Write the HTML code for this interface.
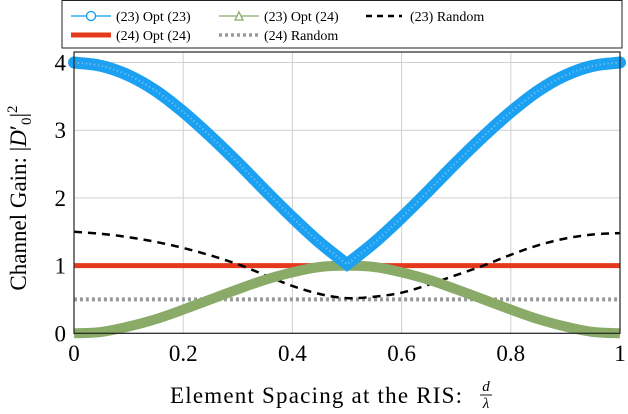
<!DOCTYPE html>
<html><head><meta charset="utf-8"><style>
body{margin:0;background:#fff;}
svg{display:block;font-family:"Liberation Serif",serif;}
</style></head><body>
<svg width="628" height="414" viewBox="0 0 628 414" id="c">
<g id="grid"></g>
<g id="series"></g>
<rect x="74" y="52" width="546" height="281.3" fill="none" stroke="#222" stroke-width="1.2"/>
<g id="ticks"></g>
<text x="170" y="403" font-size="23" textLength="292" lengthAdjust="spacing">Element Spacing at the RIS:</text>
<g>
<text x="486" y="391" font-size="15" font-style="italic" text-anchor="middle">d</text>
<line x1="480" y1="395" x2="492" y2="395" stroke="#000" stroke-width="0.9"/>
<text x="486" y="408" font-size="15" font-style="italic" text-anchor="middle">λ</text>
</g>
<text transform="translate(26,198) rotate(-90)" font-size="23" text-anchor="middle">Channel Gain: |<tspan font-style="italic">D</tspan>′<tspan font-size="15" dy="5">0</tspan><tspan dy="-5">|</tspan><tspan font-size="15" dy="-9">2</tspan></text>
<g>
<rect x="62" y="0.5" width="560" height="47.5" fill="#fff" stroke="#222" stroke-width="1"/>
<g><line x1="71" y1="16" x2="111" y2="16" stroke="#0a9af0" stroke-width="1.3"/><circle cx="91" cy="16" r="4.5" fill="#fff" stroke="#0a9af0" stroke-width="1.3"/><text x="116" y="21" font-size="14">(23) Opt (23)</text></g>
<g><line x1="219" y1="16" x2="259" y2="16" stroke="#8aab68" stroke-width="1.3"/><path d="M235,20 L239,12 L243,20 Z" fill="#fff" stroke="#8aab68" stroke-width="1.3"/><text x="264" y="21" font-size="14">(23) Opt (24)</text></g>
<g><line x1="366" y1="16" x2="402" y2="16" stroke="#000" stroke-width="2.5" stroke-dasharray="6,5"/><text x="410" y="21" font-size="14">(23) Random</text></g>
<g><line x1="71" y1="35" x2="111" y2="35" stroke="#e5391e" stroke-width="5"/><text x="116" y="40" font-size="14">(24) Opt (24)</text></g>
<g><line x1="219" y1="35" x2="259" y2="35" stroke="#999" stroke-width="3.5" stroke-dasharray="3,3"/><text x="264" y="40" font-size="14">(24) Random</text></g>
</g>
</svg>
<script>
const xVals=[0,0.05,0.1,0.15,0.2,0.25,0.3,0.35,0.4,0.45,0.5,0.55,0.6,0.65,0.7,0.75,0.8,0.85,0.9,0.95,1];
const opt23=[4,3.95,3.81,3.58,3.27,2.91,2.52,2.11,1.71,1.34,1.02,1.34,1.71,2.11,2.52,2.91,3.27,3.58,3.81,3.95,4];
const opt24on23=[0,0.02,0.1,0.21,0.35,0.5,0.65,0.79,0.9,0.98,1,0.98,0.9,0.79,0.65,0.5,0.35,0.21,0.1,0.02,0];
const rand23=[1.5,1.47,1.42,1.35,1.26,1.15,1.02,0.86,0.7,0.58,0.52,0.54,0.6,0.72,0.86,1.0,1.16,1.3,1.4,1.46,1.48];
const opt24=[1,1];
const rand24=[0.5,0.5];
const xTicks=["0","0.2","0.4","0.6","0.8","1"];
const yTicks=["0","1","2","3","4"];
const NS="http://www.w3.org/2000/svg";
const X=v=>74+v*546, Y=v=>333.3-v*67.7;
function mk(t,a,p){const e=document.createElementNS(NS,t);for(const k in a)e.setAttribute(k,a[k]);document.getElementById(p).appendChild(e);return e;}
xTicks.forEach(t=>{const v=+t;
 const g=mk('line',{x1:X(v),x2:X(v),y1:52,y2:333.3,stroke:'#d0d0d0','stroke-width':1},'grid');
 
 
 const l=mk('text',{x:X(v),y:361,'font-size':23,'text-anchor':'middle'},'ticks');l.textContent=t;
 
 });
yTicks.forEach(t=>{const v=+t;
 const g=mk('line',{x1:74,x2:620,y1:Y(v),y2:Y(v),stroke:'#d0d0d0','stroke-width':1},'grid');
 
 
 const l=mk('text',{x:66,y:Y(v)+8,'font-size':23,'text-anchor':'end'},'ticks');l.textContent=t;
 
 });
function smooth(xs,ys,cusp){
 const P=ys.map((v,i)=>[X(xs[i]),Y(v)]);
 let d='M'+P[0][0].toFixed(1)+','+P[0][1].toFixed(1);
 for(let i=0;i<P.length-1;i++){
  const p0=(i===0||cusp===i)?P[i]:P[i-1], p1=P[i], p2=P[i+1], p3=(i+2>=P.length||cusp===i+1)?P[i+1]:P[i+2];
  const c1=[p1[0]+(p2[0]-p0[0])/6,p1[1]+(p2[1]-p0[1])/6], c2=[p2[0]-(p3[0]-p1[0])/6,p2[1]-(p3[1]-p1[1])/6];
  d+=' C'+c1.map(n=>n.toFixed(1)).join(',')+' '+c2.map(n=>n.toFixed(1)).join(',')+' '+p2.map(n=>n.toFixed(1)).join(',');
 }
 return d;}
function path(xs,ys,attrs,name,cusp){
 const p=mk('path',Object.assign({d:smooth(xs,ys,cusp),fill:'none'},attrs),'series');
 
 return p;}
const mid=opt23.indexOf(Math.min(...opt23));
path([0,1],rand24,{stroke:'#999','stroke-width':4,'stroke-dasharray':'3,3'},'line-24-random');
path([0,1],opt24,{stroke:'#e5391e','stroke-width':5},'line-24-opt-24');
path(xVals,rand23,{stroke:'#000','stroke-width':2.5,'stroke-dasharray':'8,6'},'line-23-random');
path(xVals,opt24on23,{stroke:'#8aab68','stroke-width':10},'line-23-opt-24');
path(xVals,opt23,{stroke:'#1ba0f2','stroke-width':12,'stroke-linecap':'round'},'line-23-opt-23',mid);
path(xVals,opt23,{stroke:'#7cc8f5','stroke-width':2,'stroke-dasharray':'1,3'},'line-23-opt-23-markers',mid);
</script>
</body></html>
